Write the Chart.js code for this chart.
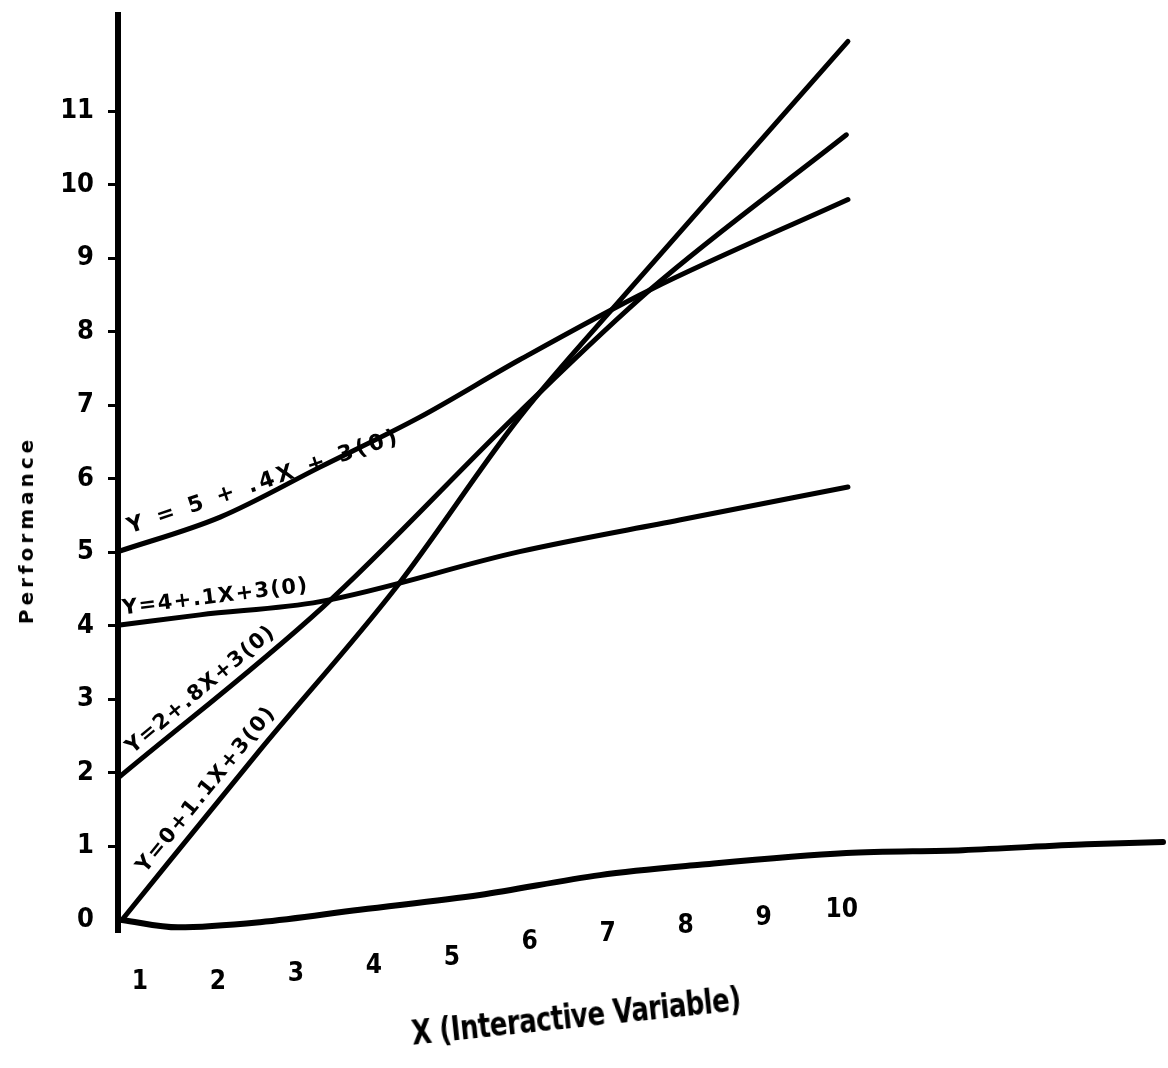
<!DOCTYPE html>
<html>
<head>
<meta charset="utf-8">
<script src="https://cdn.jsdelivr.net/npm/chart.js@4.4.0/dist/chart.umd.min.js"></script>
<style>
    body { margin: 0; background: #fff; }
    #wrap { position: relative; width: 1168px; height: 1068px; }
    .axis-title {
        position: absolute;
        font-family: 'DejaVu Sans', sans-serif;
        font-weight: bold;
        color: #000;
        white-space: nowrap;
    }
    #yTitle {
        left: 26px; top: 530px;
        font-size: 20px; letter-spacing: 4px;
        transform: translate(-50%, -50%) rotate(-90deg);
    }
    #xTitle {
        left: 576px; top: 1016px;
        font-size: 26px; letter-spacing: -0.5px;
        transform: translate(-50%, -50%) rotate(-6deg) scale(1, 1.3);
    }
</style>
</head>
<body>
<div id="wrap">
    <canvas id="chart" width="1168" height="1068"></canvas>
    <div class="axis-title" id="yTitle">Performance</div>
    <div class="axis-title" id="xTitle">X (Interactive Variable)</div>
</div>
<script>
// tick labels
const xTicks = [1, 2, 3, 4, 5, 6, 7, 8, 9, 10];
const yTicks = [0, 1, 2, 3, 4, 5, 6, 7, 8, 9, 10, 11];

// Y = 5 + .4X + 3(0)
const line5X = [0.72, 2.03, 3.31, 4.59, 5.87, 7.54, 10.08];
const line5Y = [5.01, 5.48, 6.16, 6.84, 7.62, 8.57, 9.80];
// Y = 4 + .1X + 3(0)
const line4X = [0.72, 1.77, 3.31, 5.87, 7.92, 10.08];
const line4Y = [4.01, 4.15, 4.33, 5.01, 5.44, 5.89];
// Y = 2 + .8X + 3(0)
const line2X = [0.72, 3.35, 5.87, 7.54, 10.06];
const line2Y = [1.93, 4.26, 6.91, 8.57, 10.68];
// Y = 0 + 1.1X + 3(0)
const line0X = [0.77, 2.54, 4.29, 5.87, 7.24, 10.08];
const line0Y = [0, 2.31, 4.53, 6.84, 8.53, 11.95];
// bottom curve
const baseX = [0.77, 1.49, 2.54, 3.82, 5.36, 6.90, 8.18, 10.06, 11.55, 13.14, 14.12];
const baseY = [0, -0.10, -0.03, 0.14, 0.34, 0.61, 0.75, 0.91, 0.95, 1.03, 1.06];

const curveNames = ['Y = 5 + .4X + 3(0)', 'Y=4+.1X+3(0)', 'Y=2+.8X+3(0)', 'Y=0+1.1X+3(0)'];

// hand-drawn x labels sit lower on the left; number of blank lines pushed in front of each
const xTickDrop = [9, 9, 8, 7, 6, 4, 3, 2, 1, 0];

const labelFont = "'Liberation Sans Narrow', 'DejaVu Sans Condensed', 'DejaVu Sans', sans-serif";

function toPoints(xs, ys) {
    return xs.map((x, i) => ({ x: x, y: ys[i] }));
}

function lineSet(xs, ys, width) {
    return {
        data: toPoints(xs, ys),
        borderColor: '#000',
        borderWidth: width,
        borderCapStyle: 'round',
        borderJoinStyle: 'round',
        pointRadius: 0,
        cubicInterpolationMode: 'monotone',
        clip: false
    };
}

// text along the lines
const curveLabels = [
    { text: curveNames[0], series: 0, startX: 0.93, gap: 8, size: 22, spacing: 3.5 },
    { text: curveNames[1], series: 1, startX: 0.80, gap: 5, size: 21, spacing: 1.5 },
    { text: curveNames[2], series: 2, startX: 0.98, gap: 4, size: 21, spacing: 1.5 },
    { text: curveNames[3], series: 3, startX: 1.18, gap: 6, size: 21, spacing: 1.8 }
];

function yAt(points, x) {
    for (let i = 1; i < points.length; i++) {
        if (x <= points[i].x) {
            const a = points[i - 1], b = points[i];
            return a.y + (b.y - a.y) * (x - a.x) / (b.x - a.x);
        }
    }
    return points[points.length - 1].y;
}

const curveLabelPlugin = {
    id: 'curveLabels',
    afterDatasetsDraw(chart) {
        const ctx = chart.ctx;
        const xs = chart.scales.x, ys = chart.scales.y;
        curveLabels.forEach(lab => {
            const pts = chart.data.datasets[lab.series].data;
            const x0 = xs.getPixelForValue(lab.startX);
            const y0 = ys.getPixelForValue(yAt(pts, lab.startX));
            const x1 = xs.getPixelForValue(lab.startX + 1);
            const y1 = ys.getPixelForValue(yAt(pts, lab.startX + 1));
            ctx.save();
            ctx.translate(x0, y0);
            ctx.rotate(Math.atan2(y1 - y0, x1 - x0));
            ctx.font = 'bold ' + lab.size + "px 'DejaVu Sans', sans-serif";
            ctx.letterSpacing = lab.spacing + 'px';
            ctx.fillStyle = '#000';
            ctx.textBaseline = 'bottom';
            ctx.textAlign = 'left';
            ctx.fillText(lab.text, 0, -lab.gap);
            ctx.restore();
        });
    }
};

const chart = new Chart(document.getElementById('chart').getContext('2d'), {
    type: 'line',
    data: {
        datasets: [
            lineSet(line5X, line5Y, 5),
            lineSet(line4X, line4Y, 5),
            lineSet(line2X, line2Y, 5),
            lineSet(line0X, line0Y, 5),
            lineSet(baseX, baseY, 6)
        ]
    },
    options: {
        responsive: false,
        animation: false,
        devicePixelRatio: 1,
        layout: { padding: { left: 58, top: 15, right: 5, bottom: 82 } },
        plugins: {
            legend: { display: false },
            tooltip: { enabled: false }
        },
        scales: {
            x: {
                type: 'linear',
                min: 0.72,
                max: 14.12,
                afterBuildTicks: s => { s.ticks = xTicks.map(v => ({ value: v })); },
                afterFit: s => {
                    s.height = 55;
                    s.paddingLeft = 0; s.paddingRight = 0;
                },
                grid: { display: false, drawTicks: false },
                border: { display: false },
                ticks: {
                    autoSkip: false,
                    maxRotation: 0,
                    minRotation: 0,
                    mirror: true,
                    padding: 17,
                    color: '#000',
                    font: { family: labelFont, size: 26, weight: 'bold', lineHeight: '8px' },
                    callback: (v, i) => Array(xTickDrop[i]).fill('').concat(String(xTicks[i]))
                }
            },
            y: {
                type: 'linear',
                min: -0.15,
                max: 12.31,
                afterBuildTicks: s => { s.ticks = yTicks.map(v => ({ value: v })); },
                afterFit: s => {
                    s.width = 60;
                    s.paddingTop = 0; s.paddingBottom = 0;
                },
                grid: {
                    drawOnChartArea: false,
                    drawTicks: true,
                    tickLength: 10,
                    lineWidth: 3,
                    color: c => (c.tick && c.tick.value === 0) ? 'rgba(0,0,0,0)' : '#000'
                },
                border: { display: true, width: 6, color: '#000' },
                ticks: {
                    padding: 14,
                    color: '#000',
                    font: { family: labelFont, size: 27, weight: 'bold' },
                    callback: v => String(v)
                }
            }
        }
    },
    plugins: [curveLabelPlugin]
});
</script>
</body>
</html>
